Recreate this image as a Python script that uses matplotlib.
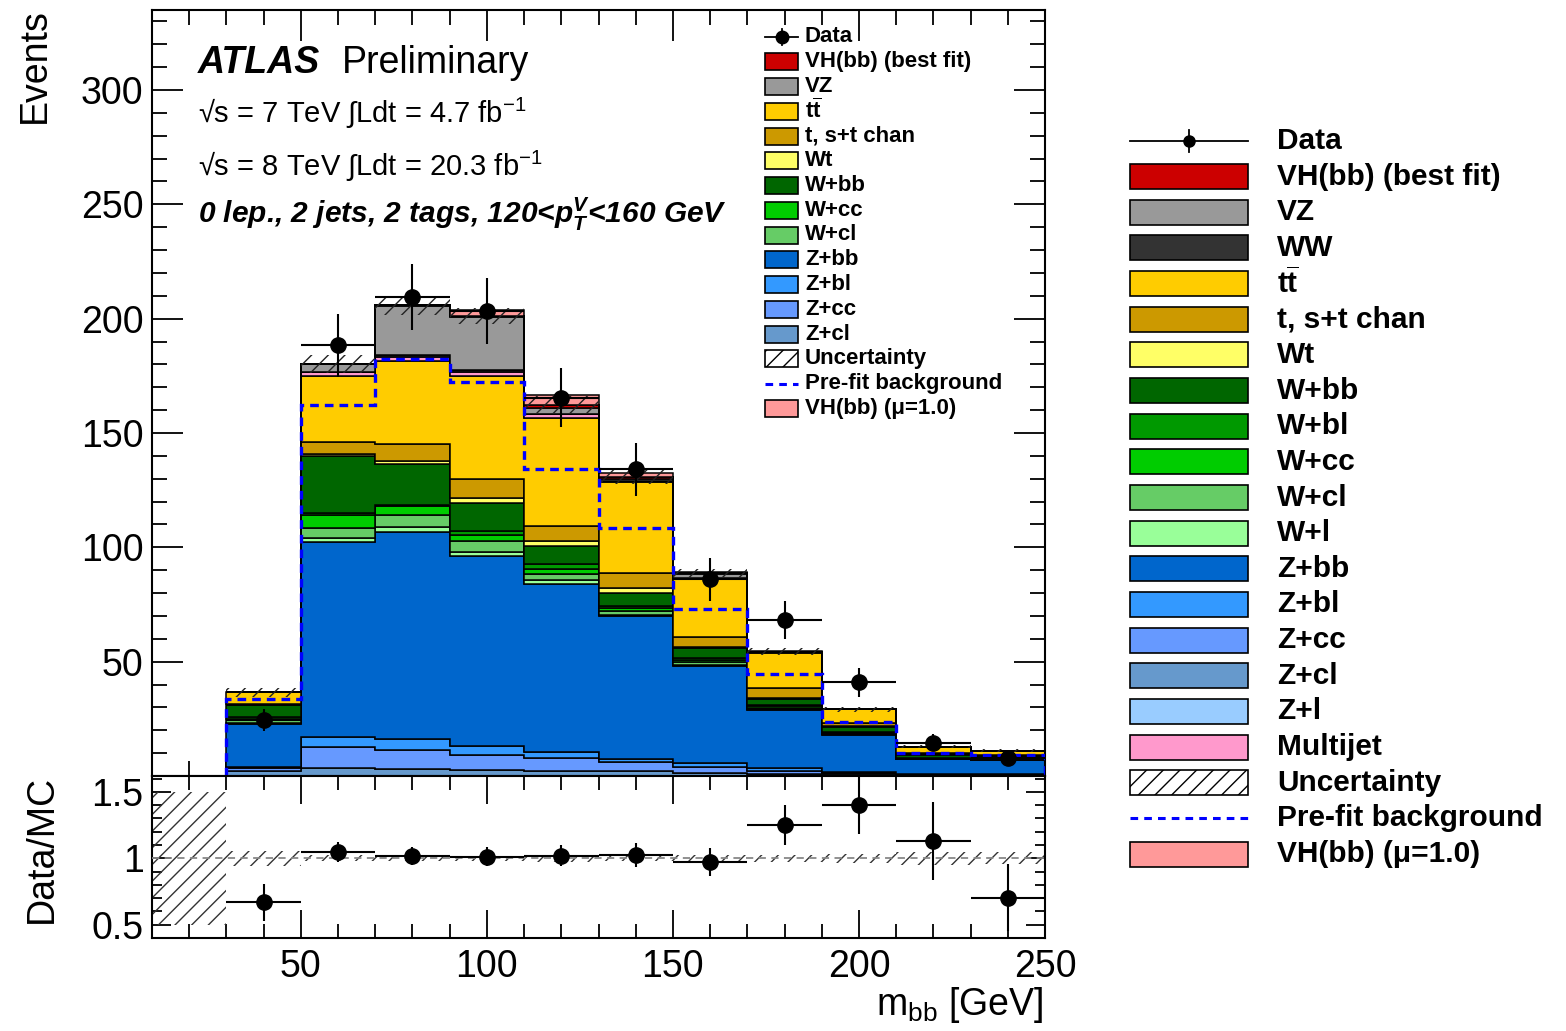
import matplotlib.pyplot as plt
import matplotlib.patches as mpatches
from matplotlib.ticker import MultipleLocator, FixedLocator, FuncFormatter
import numpy as np

plt.rcParams['font.family'] = ['Liberation Sans', 'DejaVu Sans']
plt.rcParams['mathtext.fontset'] = 'custom'
plt.rcParams['mathtext.rm'] = 'Liberation Sans'
plt.rcParams['mathtext.it'] = 'Liberation Sans:italic'
plt.rcParams['mathtext.bf'] = 'Liberation Sans:bold'
plt.rcParams['hatch.linewidth'] = 1.0

# --- binning (m_bb in GeV) ---
edges = [30, 50, 70, 90, 110, 130, 150, 170, 190, 210, 230, 250]
empty_bin = [10, 30]

# --- stacked backgrounds, bottom to top (events per bin) ---
zl = [0.0, 0.0, 0.0, 0.0, 0.0, 0.0, 0.0, 0.0, 0.0, 0.0, 0.0]
zcl = [2.3, 3.5, 3.2, 2.5, 2.0, 2.0, 1.2, 0.9, 0.7, 0.3, 0.3]
zcc = [1.3, 9.4, 8.2, 6.9, 5.7, 4.0, 2.9, 1.4, 0.6, 0.4, 0.3]
zbl = [0.3, 4.2, 5.0, 3.8, 2.6, 1.6, 1.5, 1.0, 0.6, 0.3, 0.2]
zbb = [18.7, 85.4, 90.5, 83.0, 73.5, 62.3, 42.4, 25.7, 16.1, 6.3, 6.2]
wl = [0.5, 1.7, 2.0, 1.7, 1.9, 0.5, 0.5, 0.3, 0.2, 0.1, 0.1]
wcl = [1.3, 4.4, 5.4, 4.8, 2.8, 1.9, 1.2, 0.6, 0.4, 0.2, 0.1]
wcc = [0.7, 5.4, 3.8, 2.9, 2.2, 1.0, 1.0, 0.5, 0.4, 0.2, 0.1]
wbl = [0.8, 1.0, 0.5, 1.4, 1.9, 1.0, 0.8, 0.5, 0.4, 0.1, 0.1]
wbb = [5.1, 24.8, 17.7, 12.4, 8.0, 5.6, 4.4, 2.9, 2.2, 1.5, 1.2]
wt = [0.2, 1.0, 1.5, 2.2, 2.2, 2.2, 0.7, 0.5, 0.3, 0.2, 0.2]
stop = [0.2, 5.1, 7.6, 8.5, 6.6, 6.6, 4.4, 4.1, 1.2, 0.3, 0.3]
ttbar = [5.3, 29.2, 36.0, 45.0, 47.2, 39.7, 25.0, 15.6, 6.0, 3.0, 2.0]
multijet = [0.0, 1.5, 1.8, 1.8, 1.5, 0.5, 0.3, 0.1, 0.0, 0.0, 0.0]
ww = [0.0, 0.3, 1.0, 0.8, 0.2, 0.2, 0.1, 0.0, 0.0, 0.0, 0.0]
vz = [0.0, 3.2, 21.4, 23.0, 2.6, 1.0, 1.8, 0.2, 0.1, 0.0, 0.0]
vh_fit = [0.0, 0.1, 0.2, 0.5, 1.3, 0.6, 0.4, 0.1, 0.0, 0.0, 0.0]
vh_sm = [0.0, 0.2, 0.3, 2.4, 4.4, 2.0, 0.6, 0.2, 0.0, 0.0, 0.0]

unc = [2.0, 4.0, 4.2, 3.5, 4.0, 3.0, 2.0, 1.5, 1.0, 0.6, 0.5]
prefit = [33.6, 162.3, 182.2, 172.2, 134.2, 108.6, 73.1, 44.4, 23.4, 10.2, 9.1]
data = [24.5, 188.3, 209.5, 203.4, 165.4, 134.2, 86.0, 68.1, 40.9, 14.6, 7.8]
data_err = [5.0, 13.7, 14.5, 14.3, 12.9, 11.6, 9.3, 8.3, 6.4, 3.8, 2.8]

stack = [
    (zl, '#99ccff'), (zcl, '#6699cc'), (zcc, '#6699ff'), (zbl, '#3399ff'), (zbb, '#0066cc'),
    (wl, '#99ff99'), (wcl, '#66cc66'), (wcc, '#00cc00'), (wbl, '#009900'), (wbb, '#006600'),
    (wt, '#ffff66'), (stop, '#cc9900'), (ttbar, '#ffcc00'), (multijet, '#ff99cc'),
    (ww, '#333333'), (vz, '#999999'), (vh_fit, '#cc0000'),
]

W, H = 1566, 1031
fig = plt.figure(figsize=(W / 100, H / 100), dpi=100)


def box(x0, y0, x1, y1):
    return [x0 / W, 1 - y1 / H, (x1 - x0) / W, (y1 - y0) / H]


ax = fig.add_axes(box(152, 10, 1045, 776))
rax = fig.add_axes(box(152, 776, 1045, 938), sharex=ax)

edges_a = np.array(edges, dtype=float)
centers = 0.5 * (edges_a[:-1] + edges_a[1:])
half = 0.5 * np.diff(edges_a)

bottom = np.zeros(len(centers))
for vals, col in stack:
    top = bottom + np.array(vals)
    ax.stairs(top, edges_a, baseline=bottom, fill=True, facecolor=col,
              edgecolor='black', linewidth=1.1, zorder=2)
    bottom = top
total = bottom.copy()
ax.stairs(total + np.array(vh_sm), edges_a, baseline=total, fill=True,
          facecolor='#ff9999', edgecolor='black', linewidth=1.1, zorder=2)

unc_a = np.array(unc)
ax.stairs(total + unc_a, edges_a, baseline=total - unc_a, fill=True,
          facecolor='none', edgecolor='#222222', hatch='//', linewidth=0, zorder=3)

ax.stairs(prefit, edges_a, baseline=0, color='#0000ff', linewidth=2.4,
          linestyle=(0, (2.6, 1.8)), zorder=4)

ax.errorbar(centers, data, yerr=data_err, xerr=half, fmt='o', color='black',
            markersize=11, elinewidth=1.5, capsize=0, zorder=5)

ax.set_xlim(10, 250)
ax.set_ylim(0, 335)
ax.yaxis.set_major_locator(MultipleLocator(50))
ax.yaxis.set_minor_locator(MultipleLocator(10))
ax.xaxis.set_major_locator(MultipleLocator(50))
ax.xaxis.set_minor_locator(MultipleLocator(10))
ax.yaxis.set_major_formatter(FuncFormatter(lambda v, p: '' if v == 0 else f'{v:g}'))
ax.tick_params(which='both', direction='in', top=True, right=True,
               labelbottom=False, labelsize=27, width=1.3, pad=6)
ax.tick_params(which='major', length=22)
ax.tick_params(which='minor', length=11)

# --- ratio panel ---
ratio = np.array(data) / total
ratio_err = np.array(data_err) / total
rel = unc_a / total
rax.stairs(1 + rel, edges_a, baseline=1 - rel, fill=True, facecolor='none',
           edgecolor='#333333', hatch='//', linewidth=0, zorder=2)
rax.stairs([1.5], empty_bin, baseline=0.5, fill=True, facecolor='none',
           edgecolor='#333333', hatch='//', linewidth=0, zorder=2)
rax.axhline(1, color='#888888', linestyle=(0, (4, 3)), linewidth=1.3, zorder=3)
rax.errorbar(centers, ratio, yerr=ratio_err, xerr=half, fmt='o', color='black',
             markersize=11, elinewidth=1.5, capsize=0, zorder=5)
rax.set_ylim(0.4, 1.62)
rax.yaxis.set_major_locator(FixedLocator([0.5, 1.0, 1.5]))
rax.yaxis.set_major_formatter(FuncFormatter(lambda v, p: f'{v:g}'))
rax.yaxis.set_minor_locator(MultipleLocator(0.1))
rax.tick_params(which='both', direction='in', top=True, right=True,
                labelsize=27, width=1.3, pad=6)
rax.tick_params(axis='x', which='major', length=20, pad=8)
rax.tick_params(axis='x', which='minor', length=10)
rax.tick_params(axis='y', which='major', length=14)
rax.tick_params(axis='y', which='minor', length=7)

for a in (ax, rax):
    for s in a.spines.values():
        s.set_linewidth(1.5)

# --- overlay in pixel coordinates for labels and legends ---
ov = fig.add_axes([0, 0, 1, 1], zorder=10)
ov.set_xlim(0, W)
ov.set_ylim(H, 0)
ov.axis('off')

ov.text(35, 8, 'Events', rotation=90, ha='center', va='top', fontsize=27)
ov.text(42, 849, 'Data/MC', rotation=90, ha='center', va='center', fontsize=27)
ov.text(1043, 1015, r'm$_{\mathrm{bb}}$ [GeV]', ha='right', va='baseline', fontsize=27)

ov.text(198, 73, 'ATLAS', fontsize=27, fontweight='bold', style='italic', va='baseline')
ov.text(342, 73, 'Preliminary', fontsize=27, va='baseline')
ov.text(198, 123, '\u221as = 7 TeV \u222bLdt = 4.7 fb$^{\\mathrm{-1}}$',
        fontsize=21, va='baseline')
ov.text(198, 176, '\u221as = 8 TeV \u222bLdt = 20.3 fb$^{\\mathrm{-1}}$',
        fontsize=21, va='baseline')
plt.rcParams['mathtext.it'] = 'Liberation Sans:bold:italic'
ov.text(198, 223, r'0 lep., 2 jets, 2 tags, 120<p$_{T}^{V}$<160 GeV', fontsize=21.5,
        fontweight='bold', style='italic', va='baseline')

ttbar_label = r'$\mathbf{t\overline{t}}$'
mu_label = 'VH(bb) (\u03bc=1.0)'


def legend_entry(x0, x1, y, h, kind, color, label, tx, fs, ms):
    if kind == 'data':
        ov.plot([x0, x1], [y, y], color='black', lw=1.3)
        xm = 0.5 * (x0 + x1)
        ov.plot([xm, xm], [y - h * 0.45, y + h * 0.45], color='black', lw=1.3)
        ov.plot([xm], [y], 'o', color='black', ms=ms)
    elif kind == 'line':
        ov.plot([x0, x1], [y, y], color='#0000ff', lw=2.2, linestyle=(0, (2.5, 2)))
    elif kind == 'hatch':
        ov.add_patch(mpatches.Rectangle((x0, y - h / 2), x1 - x0, h, facecolor='white',
                                        edgecolor='black', hatch='//', lw=1.2))
    else:
        ov.add_patch(mpatches.Rectangle((x0, y - h / 2), x1 - x0, h, facecolor=color,
                                        edgecolor='black', lw=1.2))
    ov.text(tx, y, label, fontsize=fs, fontweight='bold', va='center')


inner = [
    ('data', None, 'Data'), ('box', '#cc0000', 'VH(bb) (best fit)'), ('box', '#999999', 'VZ'),
    ('box', '#ffcc00', ttbar_label), ('box', '#cc9900', 't, s+t chan'), ('box', '#ffff66', 'Wt'),
    ('box', '#006600', 'W+bb'), ('box', '#00cc00', 'W+cc'), ('box', '#66cc66', 'W+cl'),
    ('box', '#0066cc', 'Z+bb'), ('box', '#3399ff', 'Z+bl'), ('box', '#6699ff', 'Z+cc'),
    ('box', '#6699cc', 'Z+cl'), ('hatch', None, 'Uncertainty'), ('line', None, 'Pre-fit background'),
    ('box', '#ff9999', mu_label),
]
for i, (kind, col, lab) in enumerate(inner):
    legend_entry(765, 798, 37 + i * 24.75, 17, kind, col, lab, 805, 16, 9)

outer = [
    ('data', None, 'Data'), ('box', '#cc0000', 'VH(bb) (best fit)'), ('box', '#999999', 'VZ'),
    ('box', '#333333', 'WW'), ('box', '#ffcc00', ttbar_label), ('box', '#cc9900', 't, s+t chan'),
    ('box', '#ffff66', 'Wt'), ('box', '#006600', 'W+bb'), ('box', '#009900', 'W+bl'),
    ('box', '#00cc00', 'W+cc'), ('box', '#66cc66', 'W+cl'), ('box', '#99ff99', 'W+l'),
    ('box', '#0066cc', 'Z+bb'), ('box', '#3399ff', 'Z+bl'), ('box', '#6699ff', 'Z+cc'),
    ('box', '#6699cc', 'Z+cl'), ('box', '#99ccff', 'Z+l'), ('box', '#ff99cc', 'Multijet'),
    ('hatch', None, 'Uncertainty'), ('line', None, 'Pre-fit background'), ('box', '#ff9999', mu_label),
]
for i, (kind, col, lab) in enumerate(outer):
    legend_entry(1130, 1248, 141 + i * 35.65, 25, kind, col, lab, 1277, 21.5, 8)

fig.savefig('out.png', dpi=100)
